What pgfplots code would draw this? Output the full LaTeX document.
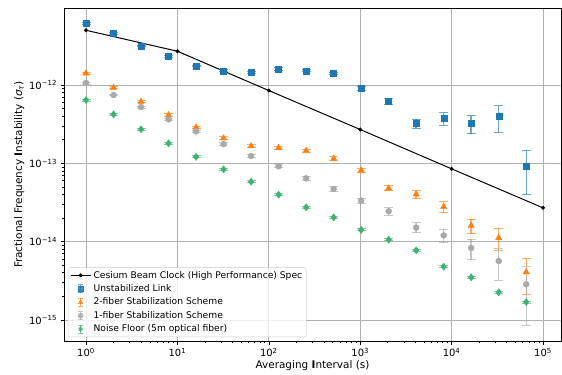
\documentclass[border=0pt]{standalone}
\usepackage{pgfplots}
\pgfplotsset{compat=1.18}
\usepackage{pgfplotstable}
\usepackage{fontspec}
\setmainfont{DejaVu Sans}
\definecolor{cblue}{HTML}{1F77B4}
\definecolor{corange}{HTML}{FF7F0E}
\definecolor{cgray}{HTML}{A9A9A9}
\definecolor{cgreen}{HTML}{3CB371}
\definecolor{gridc}{HTML}{B0B0B0}

\pgfplotstableread{
x y
1 5e-12
10 2.7e-12
100 8.5e-13
1000 2.7e-13
10000 8.5e-14
100000 2.7e-14
}\cesium

\pgfplotstableread{
x y e
1 6.07e-12 0.18e-12
2 4.61e-12 0.14e-12
4 3.15e-12 0.09e-12
8 2.33e-12 0.07e-12
16 1.75e-12 0.05e-12
32 1.52e-12 0.05e-12
64 1.45e-12 0.05e-12
128 1.60e-12 0.05e-12
256 1.52e-12 0.05e-12
512 1.41e-12 0.05e-12
1024 9.15e-13 0.54e-13
2048 6.19e-13 0.48e-13
4096 3.22e-13 0.43e-13
8192 3.74e-13 0.69e-13
16384 3.22e-13 0.83e-13
32768 3.95e-13 1.49e-13
65536 9.3e-14 5.3e-14
}\unstab

\pgfplotstableread{
x y e
1 1.41e-12 0.04e-12
2 9.24e-13 0.3e-13
4 6.12e-13 0.2e-13
8 4.14e-13 0.15e-13
16 2.88e-13 0.1e-13
32 2.09e-13 0.08e-13
64 1.66e-13 0.07e-13
128 1.58e-13 0.07e-13
256 1.45e-13 0.07e-13
512 1.15e-13 0.07e-13
1024 8.14e-14 0.48e-14
2048 4.80e-14 0.35e-14
4096 4.02e-14 0.47e-14
8192 2.79e-14 0.44e-14
16384 1.60e-14 0.34e-14
32768 1.12e-14 0.35e-14
65536 4.09e-15 2.0e-15
}\twofiber

\pgfplotstableread{
x y e
1 1.06e-12 0.03e-12
2 7.45e-13 0.2e-13
4 5.23e-13 0.15e-13
8 3.65e-13 0.12e-13
16 2.56e-13 0.09e-13
32 1.76e-13 0.07e-13
64 1.24e-13 0.06e-13
128 9.16e-14 0.4e-14
256 6.43e-14 0.35e-14
512 4.70e-14 0.3e-14
1024 3.33e-14 0.25e-14
2048 2.44e-14 0.27e-14
4096 1.51e-14 0.22e-14
8192 1.20e-14 0.24e-14
16384 8.28e-15 2.4e-15
32768 5.65e-15 2.45e-15
65536 2.85e-15 2.0e-15
}\onefiber

\pgfplotstableread{
x y e
1 6.43e-13 0.19e-13
2 4.22e-13 0.13e-13
4 2.72e-13 0.08e-13
8 1.80e-13 0.05e-13
16 1.21e-13 0.04e-13
32 8.38e-14 0.25e-14
64 5.82e-14 0.17e-14
128 3.97e-14 0.12e-14
256 2.74e-14 0.08e-14
512 2.04e-14 0.06e-14
1024 1.41e-14 0.04e-14
2048 1.06e-14 0.03e-14
4096 7.74e-15 0.23e-15
8192 4.78e-15 0.14e-15
16384 3.50e-15 0.1e-15
32768 2.25e-15 0.07e-15
65536 1.69e-15 0.05e-15
}\noise

\pgfplotsset{
  errleg/.style={legend image code/.code={%
    \draw[##1, mark=none, opacity=0.65, line width=1.5bp] (0.38cm,-0.14cm) -- (0.38cm,0.14cm);
    \draw[##1, mark=none, opacity=0.65, line width=1bp] (0.29cm,-0.14cm) -- (0.47cm,-0.14cm) (0.29cm,0.14cm) -- (0.47cm,0.14cm);
    \draw[##1, mark size=2.6bp] plot coordinates {(0.38cm,0cm)};
    \path (0.75cm,0cm);}},
  lineleg/.style={legend image code/.code={%
    \draw[##1, mark=none] (0.03cm,0cm) -- (0.73cm,0cm);
    \draw[##1] plot coordinates {(0.38cm,0cm)};
    \path (0.75cm,0cm);}},
  ebar/.style={
    error bars/.cd, y dir=both, y explicit,
    error mark=-,
    error bar style={line width=1.5bp, opacity=0.65, solid},
    error mark options={rotate=90, line width=1bp, mark size=4.5bp, opacity=0.65},
  },
}

\begin{document}
\begin{tikzpicture}
\useasboundingbox (-64bp,-34bp) rectangle (498bp,341bp);
\begin{axis}[
  scale only axis,
  width=497bp, height=333bp,
  xmode=log, ymode=log,
  xmin=0.5741, xmax=157300,
  ymin=5.375e-16, ymax=9.625e-12,
  xtick={1,10,100,1000,10000,100000},
  xticklabels={10\textsuperscript{0},10\textsuperscript{1},10\textsuperscript{2},10\textsuperscript{3},10\textsuperscript{4},10\textsuperscript{5}},
  ytick={1e-15,1e-14,1e-13,1e-12},
  yticklabels={10\textsuperscript{−15},10\textsuperscript{−14},10\textsuperscript{−13},10\textsuperscript{−12}},
  tick label style={font=\fontsize{10}{12}\selectfont},
  label style={font=\fontsize{10.5}{12}\selectfont},
  xlabel={Averaging \textbf{I}nterval (s)},
  ylabel={Fractional Frequency \textbf{I}nstability ({\itshape σ}\textsubscript{\itshape τ})},
  xlabel style={yshift=3bp},
  ylabel style={yshift=-2bp},
  tick align=outside,
  major tick length=3.5bp,
  minor tick length=2bp,
  every tick/.style={black, line width=0.6bp},
  xtick pos=bottom, ytick pos=left,
  grid=major,
  major grid style={gridc, line width=0.8bp},
  axis line style={line width=0.8bp},
  legend style={at={(0.008,0.012)}, anchor=south west, font=\fontsize{9.2}{11}\selectfont,
    draw=black!20, rounded corners=2bp, fill=white, fill opacity=0.8, text opacity=1,
    inner xsep=2bp, inner ysep=1.5bp, row sep=1bp},
  legend cell align=left,
]
\addplot[black, line width=1bp, mark=*, mark size=1.4bp, lineleg] table {\cesium};
\addlegendentry{Cesium Beam Clock (High Performance) Spec}
\addplot[cblue, only marks, mark=square*, mark size=3bp, errleg, ebar] table[y error=e] {\unstab};
\addlegendentry{Unstabilized Link}
\addplot[corange, only marks, mark=triangle*, mark size=3.6bp, errleg, ebar] table[y error=e] {\twofiber};
\addlegendentry{2-fiber Stabilization Scheme}
\addplot[cgray, only marks, mark=*, mark size=3bp, errleg, ebar] table[y error=e] {\onefiber};
\addlegendentry{1-fiber Stabilization Scheme}
\addplot[cgreen, only marks, mark=diamond*, mark size=3.6bp, errleg, ebar] table[y error=e] {\noise};
\addlegendentry{Noise Floor (5m optical fiber)}
\end{axis}
\end{tikzpicture}
\end{document}
